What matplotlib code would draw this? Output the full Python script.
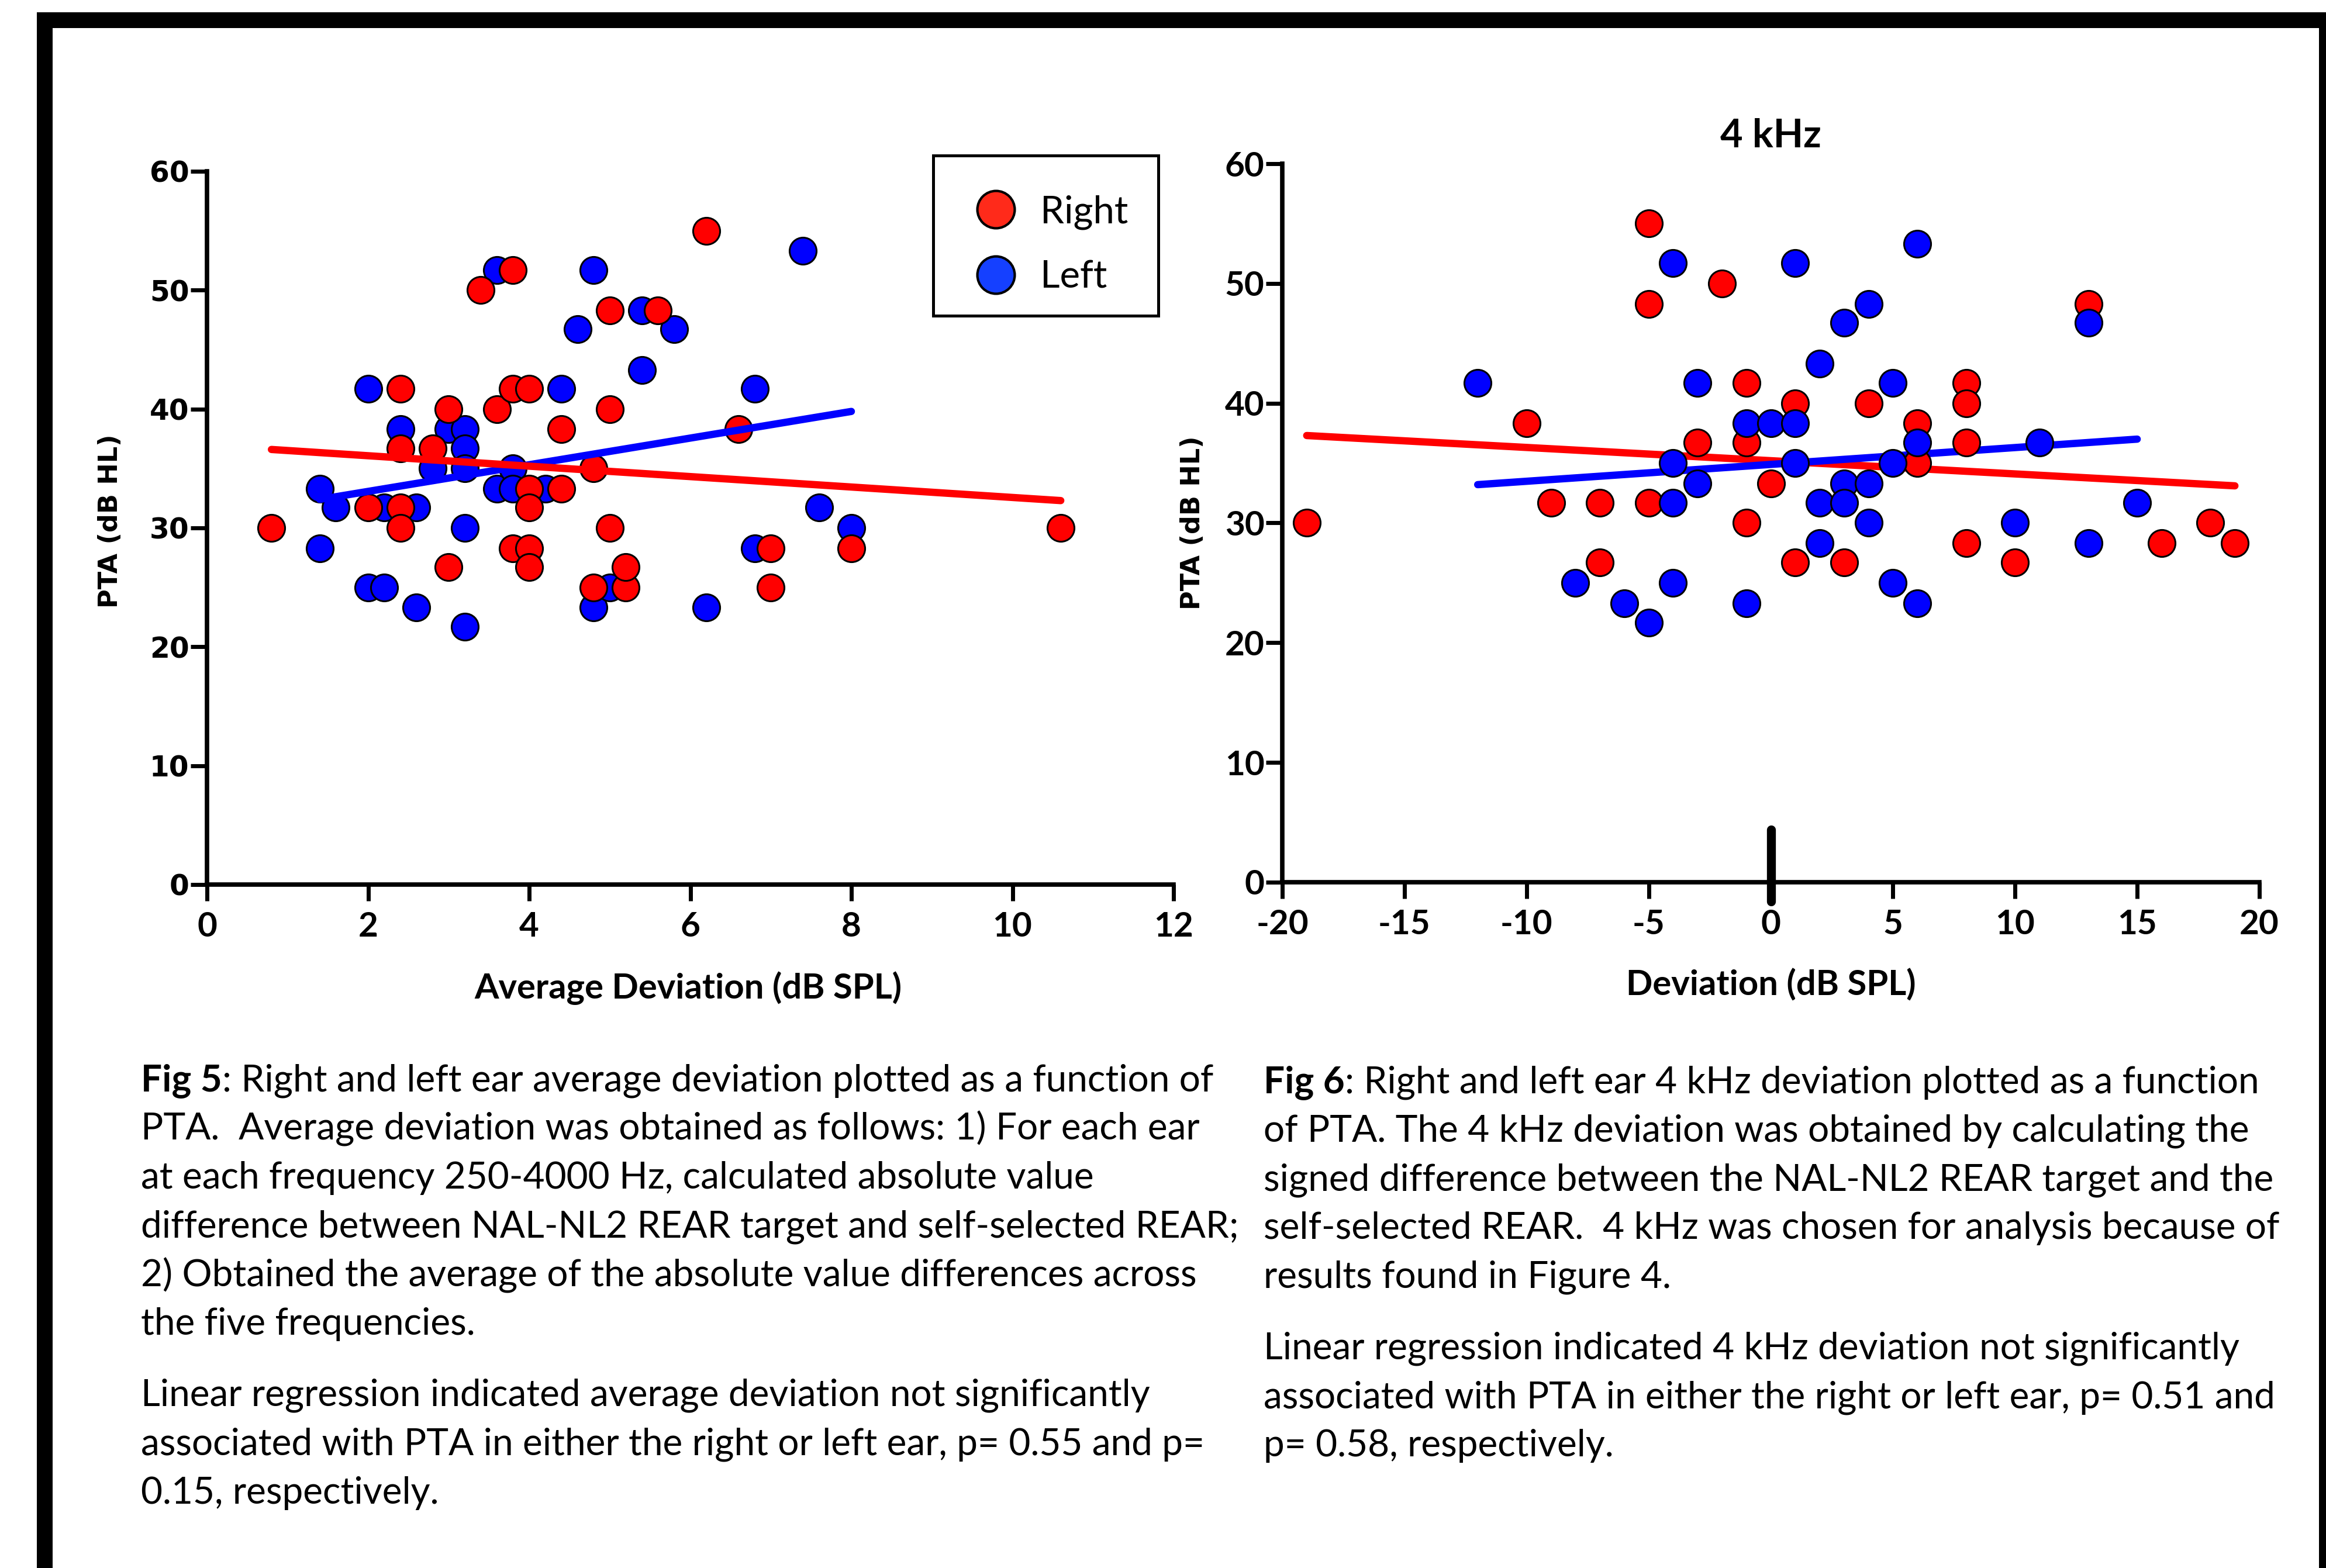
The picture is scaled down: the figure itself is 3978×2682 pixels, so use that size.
import matplotlib
matplotlib.use('Agg')
import matplotlib.pyplot as plt
from matplotlib.lines import Line2D
from matplotlib.patches import Rectangle

# Fig 5: average deviation vs PTA
avg_right_x = [0.8, 2.4, 3.0, 3.4, 3.8, 3.6, 3.8, 4.0, 2.4, 2.8, 2.0, 2.4, 2.4, 3.0, 4.0, 4.0, 3.8, 4.0,
               4.0, 4.4, 4.4, 4.8, 5.0, 5.6, 5.0, 5.0, 4.8, 5.2, 5.2, 6.2, 6.6, 7.0, 7.0, 8.0, 10.6]
avg_right_y = [30, 41.7, 40, 50, 51.7, 40, 41.7, 41.7, 36.7, 36.7, 31.7, 31.7, 30, 26.7, 33.3, 31.7, 28.3, 28.3,
               26.7, 38.3, 33.3, 35, 48.3, 48.3, 40, 30, 25, 25, 26.7, 55, 38.3, 28.3, 25, 28.3, 30]
avg_left_x = [1.4, 1.6, 1.4, 2.0, 2.0, 2.2, 2.4, 2.2, 2.6, 2.6, 3.0, 3.2, 3.2, 2.8, 3.2, 3.2, 3.2, 3.6,
              3.6, 3.8, 3.8, 4.2, 4.4, 4.6, 4.8, 4.8, 5.0, 5.4, 5.4, 5.8, 6.2, 6.8, 6.8, 7.4, 7.6, 8.0]
avg_left_y = [33.3, 31.7, 28.3, 41.7, 25, 25, 38.3, 31.7, 31.7, 23.3, 38.3, 38.3, 36.7, 35, 35, 30, 21.7, 51.7,
              33.3, 35, 33.3, 33.3, 41.7, 46.7, 51.7, 23.3, 25, 48.3, 43.3, 46.7, 23.3, 41.7, 28.3, 53.3, 31.7, 30]
avg_fit_right_x = [0.8, 10.6]
avg_fit_right_y = [36.6, 32.3]
avg_fit_left_x = [1.4, 8.0]
avg_fit_left_y = [32.4, 39.8]

# Fig 6: 4 kHz deviation vs PTA
khz_right_x = [-19, -10, -9, -7, -7, -5, -5, -5, -3, -2, -1, -1, -1, 0, 1, 1, 3, 4, 6, 6, 8, 8, 8, 8,
               10, 13, 16, 18, 19]
khz_right_y = [30, 38.3, 31.7, 31.7, 26.7, 55, 48.3, 31.7, 36.7, 50, 41.7, 36.7, 30, 33.3, 40, 26.7, 26.7,
               40, 38.3, 35, 41.7, 40, 36.7, 28.3, 26.7, 48.3, 28.3, 30, 28.3]
khz_left_x = [-12, -8, -6, -5, -4, -4, -4, -4, -3, -3, -1, -1, 0, 1, 1, 1, 2, 2, 2, 3, 3, 3, 4, 4, 4,
              5, 5, 5, 6, 6, 6, 10, 11, 13, 13, 15]
khz_left_y = [41.7, 25, 23.3, 21.7, 51.7, 35, 31.7, 25, 41.7, 33.3, 38.3, 23.3, 38.3, 51.7, 38.3, 35, 43.3,
              31.7, 28.3, 46.7, 33.3, 31.7, 48.3, 33.3, 30, 41.7, 35, 25, 53.3, 36.7, 23.3, 30, 36.7,
              46.7, 28.3, 31.7]
khz_fit_right_x = [-19, 19]
khz_fit_right_y = [37.3, 33.1]
khz_fit_left_x = [-12, 15]
khz_fit_left_y = [33.2, 37.0]

avg_xticks = [0, 2, 4, 6, 8, 10, 12]
khz_xticks = [-20, -15, -10, -5, 0, 5, 10, 15, 20]
pta_yticks = [0, 10, 20, 30, 40, 50, 60]

cap5 = ["PTA.  Average deviation was obtained as follows: 1) For each ear",
        "at each frequency 250-4000 Hz, calculated absolute value",
        "difference between NAL-NL2 REAR target and self-selected REAR;",
        "2) Obtained the average of the absolute value differences across",
        "the five frequencies."]
cap5b = ["Linear regression indicated average deviation not significantly",
         "associated with PTA in either the right or left ear, p= 0.55 and p=",
         "0.15, respectively."]
cap6 = ["of PTA. The 4 kHz deviation was obtained by calculating the",
        "signed difference between the NAL-NL2 REAR target and the",
        "self-selected REAR.  4 kHz was chosen for analysis because of",
        "results found in Figure 4."]
cap6b = ["Linear regression indicated 4 kHz deviation not significantly",
         "associated with PTA in either the right or left ear, p= 0.51 and",
         "p= 0.58, respectively."]

RED = '#ff0000'
BLUE = '#0000ff'
W, H = 3978, 2682
CAP_FS = 46

plt.rcParams['axes.unicode_minus'] = False

fig = plt.figure(figsize=(W / 100, H / 100), dpi=100)

# outer frame
for x0, y0, w, h in [(63, 21, W - 63, 27), (63, 21, 27, H - 21), (W - 12, 21, 12, H - 21)]:
    fig.add_artist(Rectangle((x0 / W, 1 - (y0 + h) / H), w / W, h / H,
                             transform=fig.transFigure, color='k', lw=0))

ax1 = fig.add_axes([354 / W, 1 - 1513 / H, (2007 - 354) / W, (1513 - 293) / H])
ax2 = fig.add_axes([2193 / W, 1 - 1509 / H, (3864 - 2193) / W, (1509 - 280) / H])

def style(ax, xticks, xlim):
    for s in ['top', 'right']:
        ax.spines[s].set_visible(False)
    for s in ['left', 'bottom']:
        ax.spines[s].set_linewidth(5.5)
    ax.set_xlim(*xlim)
    ax.set_ylim(0, 60)
    ax.set_xticks(xticks)
    ax.set_yticks(pta_yticks)
    ax.tick_params(length=20, width=5)
    ax.tick_params(axis='x', pad=13)
    ax.tick_params(axis='y', pad=2)
    for lab in ax.get_xticklabels():
        lab.set_fontfamily('Lato')
        lab.set_fontweight('bold')
        lab.set_fontsize(42)

style(ax1, avg_xticks, (0, 12))
style(ax2, khz_xticks, (-20, 20))

for lab in ax1.get_yticklabels():
    lab.set_fontfamily('DejaVu Sans')
    lab.set_fontweight('bold')
    lab.set_fontsize(35)
for lab in ax2.get_yticklabels():
    lab.set_fontfamily('Lato')
    lab.set_fontweight('bold')
    lab.set_fontsize(42)

mk = dict(s=1100, edgecolors='k', linewidths=2.2)

# left panel: lines over points
ax1.scatter(avg_left_x, avg_left_y, color=BLUE, zorder=3, **mk)
ax1.scatter(avg_right_x, avg_right_y, color=RED, zorder=4, **mk)
ax1.plot(avg_fit_left_x, avg_fit_left_y, color=BLUE, lw=9, solid_capstyle='round', zorder=5)
ax1.plot(avg_fit_right_x, avg_fit_right_y, color=RED, lw=9, solid_capstyle='round', zorder=6)

# right panel: points over lines
ax2.plot(khz_fit_right_x, khz_fit_right_y, color=RED, lw=9, solid_capstyle='round', zorder=2)
ax2.plot(khz_fit_left_x, khz_fit_left_y, color=BLUE, lw=9, solid_capstyle='round', zorder=2.5)
ax2.scatter(khz_right_x, khz_right_y, color=RED, zorder=3, **mk)
ax2.scatter(khz_left_x, khz_left_y, color=BLUE, zorder=4, **mk)
ax2.axvline(0, ymin=-0.027, ymax=0.073, color='k', lw=11, solid_capstyle='round', clip_on=False, zorder=6)

ax1.set_ylabel('PTA (dB HL)', fontfamily='DejaVu Sans', fontweight='bold', fontsize=32)
ax1.yaxis.set_label_coords(-0.087, 0.51)
ax2.set_ylabel('PTA (dB HL)', fontfamily='DejaVu Sans', fontweight='bold', fontsize=32)
ax2.yaxis.set_label_coords(-0.079, 0.50)
ax1.set_xlabel('Average Deviation (dB SPL)', fontfamily='Lato', fontweight='bold', fontsize=43, va='center')
ax1.xaxis.set_label_coords(0.498, -0.145)
ax2.set_xlabel('Deviation (dB SPL)', fontfamily='Lato', fontweight='bold', fontsize=43, va='center')
ax2.xaxis.set_label_coords(0.5, -0.143)
ax2.set_title('4 kHz', fontfamily='Lato', fontweight='bold', fontsize=48, y=1 + 47 / 1229, va='center', pad=0)

# legend: box drawn separately so the entries can sit a bit lower inside it
fig.add_artist(Rectangle((1596 / W, 1 - 540 / H), (1981 - 1596) / W, (540 - 266) / H,
                         transform=fig.transFigure, facecolor='white', edgecolor='k', lw=3.6, zorder=7))
handles = [Line2D([], [], ls='none', marker='o', ms=46, mfc='#ff2a1a', mec='k', mew=3),
           Line2D([], [], ls='none', marker='o', ms=46, mfc='#1540ff', mec='k', mew=3)]
leg = ax1.legend(handles, ['Right', 'Left'], loc='upper left',
                 bbox_to_anchor=(1596 / W, 1 - 281 / H), bbox_transform=fig.transFigure,
                 borderaxespad=0, prop={'family': 'Lato', 'size': 47},
                 borderpad=0.8, handlelength=1.69, handletextpad=0.32, labelspacing=0.8,
                 frameon=False)
leg.remove()
leg.set_zorder(8)
fig.add_artist(leg)

# captions
def caption(x, y_first, head, first, lines, lines2):
    step = 83.5
    t = fig.text(x / W, 1 - y_first / H, head, fontfamily='Lato', fontweight='bold',
                 fontsize=CAP_FS, va='baseline', ha='left')
    fig.add_artist(plt.Annotation(first, xy=(1, 0), xycoords=t, va='bottom', ha='left',
                                  fontfamily='Lato', fontsize=CAP_FS, annotation_clip=False))
    y = y_first
    for ln in lines:
        y += step
        fig.text(x / W, 1 - y / H, ln, fontfamily='Lato', fontsize=CAP_FS, va='baseline', ha='left')
    y += step + 38
    for ln in lines2:
        fig.text(x / W, 1 - y / H, ln, fontfamily='Lato', fontsize=CAP_FS, va='baseline', ha='left')
        y += step

caption(241, 1866, 'Fig 5', ': Right and left ear average deviation plotted as a function of', cap5, cap5b)
caption(2161, 1869, 'Fig 6', ': Right and left ear 4 kHz deviation plotted as a function', cap6, cap6b)

fig.savefig('out.png', dpi=100)
